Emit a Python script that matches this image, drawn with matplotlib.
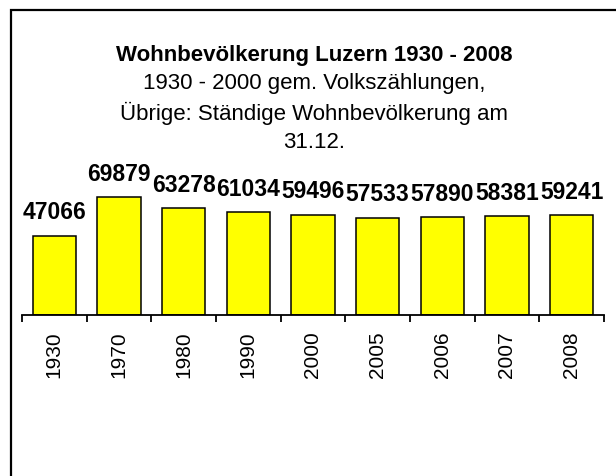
import matplotlib
matplotlib.use("Agg")
from matplotlib import pyplot as plt
from matplotlib.patches import Rectangle

plt.rcParams['font.family'] = ['Liberation Sans', 'DejaVu Sans']

years = ['1930', '1970', '1980', '1990', '2000', '2005', '2006', '2007', '2008']
population = [47066, 69879, 63278, 61034, 59496, 57533, 57890, 58381, 59241]

title = 'Wohnbevölkerung Luzern 1930 - 2008'
subtitle = ['1930 - 2000 gem. Volkszählungen,',
            'Übrige: Ständige Wohnbevölkerung am',
            '31.12.']

W, H = 616, 477
fig = plt.figure(figsize=(W / 100, H / 100), dpi=100)
fig.patch.set_facecolor('white')

# border of the chart area (runs off right and bottom)
fig.patches.append(Rectangle((10.5 / W, -0.1), 2.0, 1 - 10.5 / H + 0.1,
                             transform=fig.transFigure, fill=False,
                             edgecolor='black', linewidth=1.6))

ax = fig.add_axes([22 / W, 1 - 316 / H, (604 - 22) / W, (316 - 181) / H])
x = range(len(years))
ax.bar(x, population, width=0.67, color='#ffff00', edgecolor='black',
       linewidth=1.1, zorder=2)

for xi, v in zip(x, population):
    ax.annotate(str(v), (xi, v), xytext=(0, 9), textcoords='offset points',
                ha='center', va='bottom', fontsize=16.5, fontweight='bold')

ax.set_xlim(-0.5, len(years) - 0.5)
ax.set_ylim(0, 80000)
ax.set_yticks([])
for s in ['left', 'right', 'top']:
    ax.spines[s].set_visible(False)
ax.spines['bottom'].set_linewidth(1.3)

ax.set_xticks(list(x))
ax.set_xticklabels(years, rotation=90, fontsize=15)
ax.set_xticks([i - 0.5 for i in range(len(years) + 1)], minor=True)
ax.tick_params(axis='x', which='major', length=0, pad=11)
ax.tick_params(axis='x', which='minor', length=5, width=1.3, direction='out')

cx = 314 / W
fig.text(cx, 1 - 55 / H, title, ha='center', va='center',
         fontsize=16, fontweight='bold')
for i, line in enumerate(subtitle):
    fig.text(cx, 1 - (83 + 30 * i) / H, line, ha='center', va='center',
             fontsize=16)

fig.savefig('out.png', dpi=100)
